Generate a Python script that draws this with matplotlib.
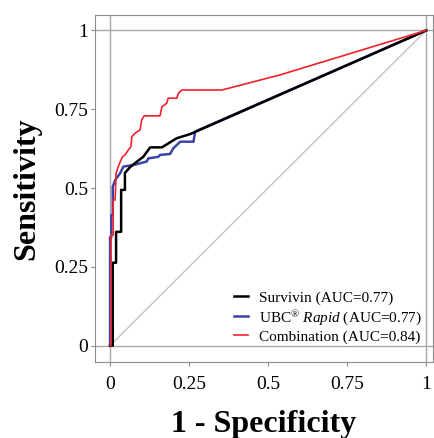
import matplotlib.pyplot as plt

plt.rcParams['font.family'] = ['Liberation Serif', 'DejaVu Serif']
plt.rcParams['mathtext.fontset'] = 'custom'
plt.rcParams['mathtext.rm'] = 'Liberation Serif'
plt.rcParams['mathtext.it'] = 'Liberation Serif:italic'

# ROC curves (1 - specificity, sensitivity)
surv_fpr = [0, 0.0085, 0.0085, 0.0085, 0.019, 0.019, 0.035, 0.035, 0.047, 0.047,
            0.063, 0.084, 0.105, 0.127, 0.164, 0.211, 0.253, 0.283, 1.0]
surv_tpr = [0, 0.0, 0.071, 0.263, 0.263, 0.361, 0.361, 0.494, 0.494, 0.548,
            0.566, 0.583, 0.599, 0.629, 0.629, 0.658, 0.671, 0.684, 1.0]

ubc_fpr = [0, 0.0, 0.004, 0.004, 0.0085, 0.0085, 0.016, 0.032, 0.042, 0.074,
           0.116, 0.121, 0.153, 0.158, 0.19, 0.2, 0.222, 0.264, 0.269, 0.28, 1.0]
ubc_tpr = [0, 0.344, 0.344, 0.414, 0.414, 0.504, 0.525, 0.547, 0.568, 0.573,
           0.584, 0.594, 0.599, 0.605, 0.608, 0.626, 0.647, 0.647, 0.679, 0.684, 1.0]

comb_fpr = [0, 0.003, 0.003, 0.010, 0.010, 0.016, 0.019, 0.026, 0.032, 0.039,
            0.047, 0.058, 0.066, 0.069, 0.079, 0.095, 0.1, 0.108, 0.158, 0.164,
            0.179, 0.184, 0.211, 0.216, 0.227, 0.354, 0.538, 1.0]
comb_tpr = [0, 0.0, 0.351, 0.351, 0.462, 0.462, 0.547, 0.568, 0.583, 0.599,
            0.605, 0.621, 0.631, 0.663, 0.674, 0.684, 0.716, 0.729, 0.729, 0.758,
            0.769, 0.785, 0.785, 0.8, 0.811, 0.811, 0.859, 1.0]

ticks = [0, 0.25, 0.5, 0.75, 1]
tick_labels = ['0', '0.25', '0.5', '0.75', '1']

fig = plt.figure(figsize=(4.34, 4.38), dpi=100)
ax = fig.add_axes([0.219, 0.1735, 0.779, 0.7923])

gray = '#a8a8a8'
for v in (0, 1):
    ax.axhline(v, color=gray, lw=1, zorder=0)
    ax.axvline(v, color=gray, lw=1, zorder=0)
ax.plot([0, 1], [0, 1], color='#c4c4c4', lw=1, zorder=1)

ax.plot(surv_fpr, surv_tpr, color='black', lw=1.8, label='Survivin (AUC=0.77)', zorder=3)
ax.plot(ubc_fpr, ubc_tpr, color='#3b44a6', lw=1.8,
        label=r'UBC$^{\mathrm{®}}$ $\mathit{Rapid}$ (AUC=0.77)', zorder=2)
ax.plot(comb_fpr, comb_tpr, color='#f0212b', lw=1.2, label='Combination (AUC=0.84)', zorder=4)

ax.set_xlim(-0.0475, 1.022)
ax.set_ylim(-0.052, 1.049)
ax.set_xticks(ticks)
ax.set_xticklabels(tick_labels)
ax.set_yticks(ticks)
ax.set_yticklabels(tick_labels)
ax.tick_params(direction='out', length=3, color='#888888', labelsize=14, pad=2)
ax.tick_params(axis='x', pad=7)
for s in ax.spines.values():
    s.set_color('#8c8c8c')

ax.set_xlabel('1 - Specificity', fontsize=23, fontweight='bold', labelpad=12)
ax.set_ylabel('Sensitivity', fontsize=23, fontweight='bold', labelpad=9)

ax.legend(loc='lower right', frameon=False, fontsize=11, handlelength=0.9,
          handletextpad=0.7, labelspacing=0.2, borderaxespad=0.0,
          bbox_to_anchor=(0.985, 0.035))

fig.savefig('out.png', dpi=100)
